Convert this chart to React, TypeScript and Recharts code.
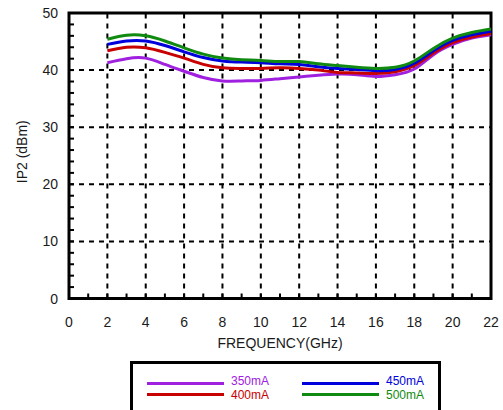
import React from 'react';
import {
  LineChart,
  Line,
  XAxis,
  YAxis,
  ReferenceLine,
  ReferenceArea,
} from 'recharts';

// frequency in GHz, IP2 in dBm
const frequency = [2, 3, 4, 5, 6, 7, 8, 9, 10, 11, 12, 13, 14, 15, 16, 17, 18, 19, 20, 21, 22];
const ip2_350mA = [41.3, 42.0, 42.1, 41.0, 39.8, 38.7, 38.1, 38.1, 38.2, 38.5, 38.8, 39.1, 39.3, 39.2, 38.9, 39.2, 40.2, 42.7, 44.5, 45.6, 46.2];
const ip2_400mA = [43.4, 44.0, 43.9, 43.1, 42.1, 41.0, 40.4, 40.3, 40.3, 40.4, 40.3, 40.0, 39.6, 39.5, 39.4, 39.7, 40.8, 43.0, 44.8, 45.8, 46.4];
const ip2_450mA = [44.5, 45.1, 45.1, 44.3, 43.2, 42.2, 41.6, 41.4, 41.3, 41.1, 41.0, 40.6, 40.3, 40.1, 39.9, 40.1, 41.2, 43.4, 45.2, 46.2, 46.8];
const ip2_500mA = [45.4, 46.1, 46.0, 45.1, 43.9, 42.8, 42.1, 41.8, 41.7, 41.5, 41.5, 41.1, 40.8, 40.5, 40.3, 40.5, 41.6, 43.8, 45.6, 46.6, 47.2];

const seriesNames = ['350mA', '400mA', '450mA', '500mA'];
const seriesKeys = ['s350', 's400', 's450', 's500'];
const seriesColors = ['#a020e0', '#c80000', '#0000dd', '#108a10'];

const xTicks = [0, 1, 2, 3, 4, 5, 6, 7, 8, 9, 10, 11, 12, 13, 14, 15, 16, 17, 18, 19, 20, 21, 22];
const xTickLabels = [0, 2, 4, 6, 8, 10, 12, 14, 16, 18, 20, 22];
const yTicks = [0, 2, 4, 6, 8, 10, 12, 14, 16, 18, 20, 22, 24, 26, 28, 30, 32, 34, 36, 38, 40, 42, 44, 46, 48, 50];
const yTickLabels = [0, 10, 20, 30, 40, 50];
const xGrid = [2, 4, 6, 8, 10, 12, 14, 16, 18, 20];
const yGrid = [10, 20, 30, 40];

const data = frequency.map((f, i) => ({
  f,
  s350: ip2_350mA[i],
  s400: ip2_400mA[i],
  s450: ip2_450mA[i],
  s500: ip2_500mA[i],
}));

const textColor = '#1a1a1a';

function BottomTick({ x, y, payload }: any) {
  return (
    <g>
      <line x1={x} y1={y} x2={x} y2={y - 5} stroke="#000" strokeWidth={2} />
      {xTickLabels.includes(payload.value) && (
        <text x={x} y={y + 28} textAnchor="middle" fontSize={14} fill={textColor}>
          {payload.value}
        </text>
      )}
    </g>
  );
}

function TopTick({ x, y }: any) {
  return <line x1={x} y1={y} x2={x} y2={y + 5} stroke="#000" strokeWidth={2} />;
}

function LeftTick({ x, y, payload }: any) {
  return (
    <g>
      <line x1={x} y1={y} x2={x + 5} y2={y} stroke="#000" strokeWidth={2} />
      {yTickLabels.includes(payload.value) && (
        <text x={x - 11} y={y + 5} textAnchor="end" fontSize={14} fill={textColor}>
          {payload.value}
        </text>
      )}
    </g>
  );
}

function RightTick({ x, y }: any) {
  return <line x1={x} y1={y} x2={x - 5} y2={y} stroke="#000" strokeWidth={2} />;
}

export default function App() {
  return (
    <div
      style={{
        position: 'absolute',
        left: 0,
        top: 0,
        width: 503,
        height: 410,
        overflow: 'hidden',
        background: '#fff',
        fontFamily: '"Liberation Sans", Arial, sans-serif',
      }}
    >
      <LineChart
        width={503}
        height={410}
        data={data}
        margin={{ top: 13, right: 12, left: 0, bottom: 0 }}
      >
        <XAxis
          dataKey="f"
          type="number"
          domain={[0, 22]}
          ticks={xTicks}
          interval={0}
          height={111.5}
          axisLine={false}
          tickLine={false}
          tickSize={0}
          tickMargin={0}
          tick={BottomTick}
          label={{
            value: 'FREQUENCY(GHz)',
            position: 'insideTop',
            offset: 40,
            fontSize: 14,
            fill: textColor,
          }}
        />
        <XAxis
          xAxisId="top"
          orientation="top"
          type="number"
          domain={[0, 22]}
          ticks={xTicks}
          interval={0}
          height={0}
          axisLine={false}
          tickLine={false}
          tickSize={0}
          tickMargin={0}
          tick={TopTick}
        />
        <YAxis
          type="number"
          domain={[0, 50]}
          ticks={yTicks}
          interval={0}
          width={69}
          axisLine={false}
          tickLine={false}
          tickSize={0}
          tickMargin={0}
          tick={LeftTick}
          label={{
            value: 'IP2 (dBm)',
            angle: -90,
            position: 'center',
            dx: -12.5,
            dy: -4,
            fontSize: 14,
            fill: textColor,
          }}
        />
        <YAxis
          yAxisId="right"
          orientation="right"
          type="number"
          domain={[0, 50]}
          ticks={yTicks}
          interval={0}
          width={0}
          axisLine={false}
          tickLine={false}
          tickSize={0}
          tickMargin={0}
          tick={RightTick}
        />
        {xGrid.map((v) => (
          <ReferenceLine key={'x' + v} x={v} stroke="#000" strokeWidth={2} strokeDasharray="5 5" />
        ))}
        {yGrid.map((v) => (
          <ReferenceLine key={'y' + v} y={v} stroke="#000" strokeWidth={2} strokeDasharray="5 5" />
        ))}
        {seriesKeys.map((k, i) => (
          <Line
            key={k}
            type="natural"
            dataKey={k}
            name={seriesNames[i]}
            stroke={seriesColors[i]}
            strokeWidth={3}
            dot={false}
            isAnimationActive={false}
          />
        ))}
        <ReferenceArea
          x1={0}
          x2={22}
          y1={0}
          y2={50}
          fill="none"
          stroke="#000"
          strokeWidth={3}
          ifOverflow="visible"
        />
      </LineChart>
      <div
        style={{
          position: 'absolute',
          left: 130,
          top: 361,
          width: 305,
          height: 60,
          border: '3px solid #000',
        }}
      />
      {seriesNames.map((name, i) => {
        const col = Math.floor(i / 2);
        const row = i % 2;
        return (
          <React.Fragment key={name}>
            <div
              style={{
                position: 'absolute',
                left: 147 + col * 155,
                top: 382 + row * 11,
                width: 77,
                height: 3,
                background: seriesColors[i],
              }}
            />
            <div
              style={{
                position: 'absolute',
                left: 231 + col * 155,
                top: 375 + row * 13.5,
                fontSize: 12,
                lineHeight: '12px',
                color: seriesColors[i],
              }}
            >
              {name}
            </div>
          </React.Fragment>
        );
      })}
    </div>
  );
}
